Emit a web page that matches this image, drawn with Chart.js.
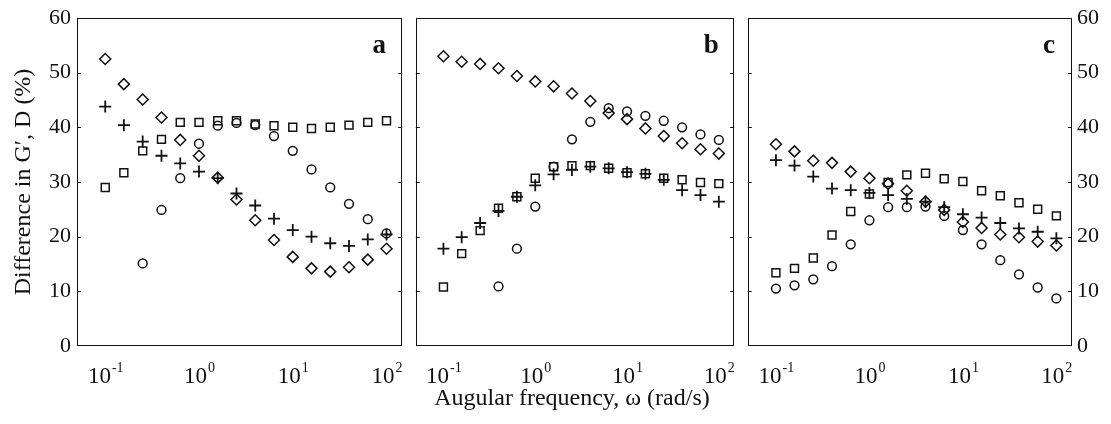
<!DOCTYPE html>
<html><head><meta charset="utf-8">
<script src="https://cdn.jsdelivr.net/npm/chart.js@4"></script>
<style>
html,body{margin:0;padding:0;background:#fff;}
#wrap{position:relative;width:1111px;height:424px;overflow:hidden;background:#fff;}
canvas{position:absolute;top:0;}
</style></head><body>
<div id="wrap">
<canvas id="ca" width="410" height="424" style="left:0px"></canvas>
<canvas id="cb" width="334" height="424" style="left:408px"></canvas>
<canvas id="cc" width="371" height="424" style="left:740px"></canvas>
</div>
<script>
// ---- data ----
const frequencies = [0.1, 0.158, 0.251, 0.398, 0.631, 1, 1.585, 2.512, 3.981, 6.31, 10, 15.85, 25.12, 39.81, 63.1, 100];
const xTickValues = [0.1, 1, 10, 100];
const xTickExponents = ['-1', '0', '1', '2'];
const yTickValues = [0, 10, 20, 30, 40, 50, 60];
const panelLabels = ['a', 'b', 'c'];
const yTitle = 'Difference in G\u2032, D (%)';
const xTitle = 'Augular frequency, \u03c9 (rad/s)';

const aDiamond = [52.5, 47.9, 45.1, 41.8, 37.7, 34.8, 30.8, 26.8, 23.0, 19.4, 16.3, 14.2, 13.6, 14.4, 15.8, 17.8];
const aPlus    = [43.8, 40.4, 37.4, 34.8, 33.4, 31.9, 30.7, 27.9, 25.7, 23.3, 21.2, 20.0, 18.8, 18.3, 19.5, 20.4];
const aSquare  = [29.0, 31.7, 35.7, 37.8, 40.9, 40.9, 41.2, 41.2, 40.6, 40.3, 40.0, 39.8, 40.0, 40.4, 40.9, 41.2];
const aCircle  = [null, null, 15.1, 24.9, 30.7, 37.0, 40.3, 40.8, 40.4, 38.4, 35.7, 32.3, 29.0, 26.0, 23.2, 20.6];

const bDiamond = [53.0, 52.0, 51.6, 50.8, 49.4, 48.4, 47.5, 46.2, 44.8, 42.6, 41.5, 39.8, 38.4, 37.1, 36.0, 35.2];
const bPlus    = [17.8, 19.9, 22.5, 24.7, 27.3, 29.4, 31.4, 32.2, 32.8, 32.5, 31.8, 31.5, 30.4, 28.5, 27.6, 26.4];
const bSquare  = [10.8, 16.9, 21.1, 25.2, 27.3, 30.7, 32.8, 33.0, 33.0, 32.5, 31.7, 31.5, 30.7, 30.4, 29.9, 29.7];
const bCircle  = [null, null, null, 10.9, 17.8, 25.5, 32.8, 37.8, 41.0, 43.5, 42.9, 42.1, 41.2, 40.0, 38.7, 37.7];

const cDiamond = [36.9, 35.6, 33.9, 33.5, 31.9, 30.7, 29.7, 28.4, 26.4, 24.9, 22.7, 21.6, 20.4, 19.9, 19.1, 18.4];
const cPlus    = [34.0, 33.0, 31.0, 28.8, 28.5, 28.0, 27.6, 26.9, 26.4, 25.4, 24.1, 23.5, 22.5, 21.5, 20.9, 19.7];
const cSquare  = [13.4, 14.2, 16.1, 20.3, 24.6, 27.8, 29.9, 31.3, 31.6, 30.6, 30.1, 28.4, 27.5, 26.2, 25.0, 23.8];
const cCircle  = [10.5, 11.1, 12.2, 14.6, 18.6, 23.0, 25.4, 25.4, 25.5, 23.8, 21.2, 18.6, 15.7, 13.1, 10.7, 8.7];

// ---- rendering ----
const SERIF = '"Liberation Serif", "DejaVu Serif", serif';
const INK = '#111';

function pts(arr) { return frequencies.map((f, i) => ({ x: f, y: arr[i] })); }
function ds(arr, style, radius, bw) {
  return { data: pts(arr), pointStyle: style, pointRadius: radius, pointHoverRadius: radius,
    borderColor: INK, backgroundColor: 'rgba(0,0,0,0)', pointBorderWidth: bw, showLine: false };
}

function makeChart(id, idx, sets, opt) {
  const framePlugin = {
    id: 'frame' + idx,
    afterDraw(chart) {
      const ctx = chart.ctx, a = chart.chartArea;
      const xs = chart.scales.x, ys = chart.scales.y;
      ctx.save();
      ctx.strokeStyle = INK; ctx.lineWidth = 1;
      ctx.strokeRect(Math.round(a.left) + 0.5, Math.round(a.top) + 0.5,
        Math.round(a.right - a.left) - 1, Math.round(a.bottom - a.top) - 1);
      // inward y ticks
      yTickValues.forEach(v => {
        const y = Math.round(ys.getPixelForValue(v)) + 0.5;
        if (v === 0 || v === 60) return;
        ctx.beginPath();
        ctx.moveTo(a.left, y); ctx.lineTo(a.left + 4, y);
        ctx.moveTo(a.right, y); ctx.lineTo(a.right - 4, y);
        ctx.stroke();
      });
      ctx.fillStyle = INK;
      // x tick labels with superscripts
      xTickValues.forEach((v, i) => {
        const x = xs.getPixelForValue(v);
        ctx.font = '23px ' + SERIF;
        const wBase = ctx.measureText('10').width;
        ctx.font = '14px ' + SERIF;
        const wExp = ctx.measureText(xTickExponents[i]).width;
        const x0 = x - (wBase + wExp) / 2;
        ctx.textBaseline = 'alphabetic'; ctx.textAlign = 'left';
        ctx.font = '23px ' + SERIF;
        ctx.fillText('10', x0, 383);
        ctx.font = '14px ' + SERIF;
        ctx.fillText(xTickExponents[i], x0 + wBase + 1, 372);
      });
      // y tick labels
      if (opt.yLabels) {
        ctx.font = '22px ' + SERIF;
        ctx.textBaseline = 'middle';
        ctx.textAlign = opt.yLabels === 'left' ? 'right' : 'left';
        yTickValues.forEach(v => {
          const y = ys.getPixelForValue(v);
          const x = opt.yLabels === 'left' ? a.left - 6 : a.right + 5;
          ctx.fillText(String(v), x, y);
        });
      }
      // panel letter
      ctx.font = 'bold 27px ' + SERIF;
      ctx.textAlign = 'center'; ctx.textBaseline = 'middle';
      ctx.fillText(panelLabels[idx], a.right - 23, a.top + 28);
      // y title
      if (opt.yTitle) {
        ctx.save();
        ctx.translate(24, (a.top + a.bottom) / 2);
        ctx.rotate(-Math.PI / 2);
        ctx.font = '24px ' + SERIF;
        ctx.textAlign = 'center'; ctx.textBaseline = 'middle';
        ctx.fillText(yTitle, 0, 0);
        ctx.restore();
      }
      // x title
      if (opt.xTitle) {
        ctx.font = '24px ' + SERIF;
        ctx.textAlign = 'center'; ctx.textBaseline = 'alphabetic';
        ctx.fillText(xTitle, 572 - 408, 405);
      }
      ctx.restore();
    }
  };
  return new Chart(document.getElementById(id), {
    type: 'scatter',
    data: { datasets: [
      ds(sets[0], 'rectRot', 5.5, 1.5),
      ds(sets[1], 'cross', 6, 1.8),
      ds(sets[2], 'rect', 5.6, 1.5),
      ds(sets[3], 'circle', 4.4, 1.5)
    ] },
    options: {
      responsive: false, animation: false,
      layout: { padding: { top: 18, bottom: 0, left: opt.padL, right: opt.padR } },
      plugins: { legend: { display: false }, tooltip: { enabled: false } },
      scales: {
        x: { type: 'logarithmic', min: 0.05, max: 147,
          afterBuildTicks: s => { s.ticks = xTickValues.map(v => ({ value: v })); },
          ticks: { display: false }, grid: { display: false }, border: { display: false },
          afterFit: s => { s.height = 78; } },
        y: { type: 'linear', position: opt.yPos, min: 0, max: 60,
          afterBuildTicks: s => { s.ticks = yTickValues.map(v => ({ value: v })); },
          ticks: { display: false }, grid: { display: false }, border: { display: false },
          afterFit: s => { s.width = opt.yWidth; } }
      }
    },
    plugins: [framePlugin]
  });
}

makeChart('ca', 0, [aDiamond, aPlus, aSquare, aCircle], { padL: 0, padR: 1, yPos: 'left', yWidth: 77, yLabels: 'left', yTitle: true });
makeChart('cb', 1, [bDiamond, bPlus, bSquare, bCircle], { padL: 1, padR: 1, yPos: 'left', yWidth: 0, xTitle: true });
makeChart('cc', 2, [cDiamond, cPlus, cSquare, cCircle], { padL: 1, padR: 0, yPos: 'right', yWidth: 39, yLabels: 'right' });
</script>
</body></html>
